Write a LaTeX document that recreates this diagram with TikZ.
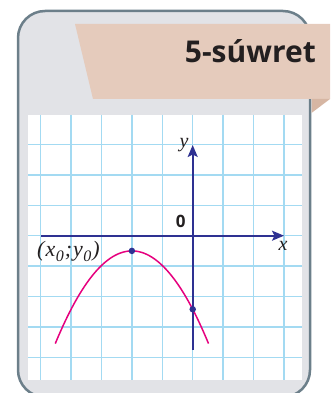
\documentclass[tikz,border=0pt]{standalone}
\usepackage{fontspec}
\setmainfont{Liberation Serif}
\newfontfamily\bannerfont{Open Sans}
\usetikzlibrary{arrows.meta}
\definecolor{framefill}{RGB}{226,227,231}
\definecolor{frameline}{RGB}{108,127,138}
\definecolor{bannerfill}{RGB}{229,203,188}
\definecolor{bannerfold}{RGB}{214,182,163}
\definecolor{gridblue}{RGB}{163,218,242}
\definecolor{navy}{RGB}{46,49,146}
\definecolor{curvemag}{RGB}{230,0,126}
\definecolor{textdark}{RGB}{35,31,32}
\newcommand{\subz}{\raisebox{-0.27em}{\fontsize{16}{16}\selectfont 0}}
\tikzset{
  gridline/.style={draw=gridblue, line width=1.3pt},
  axisline/.style={draw=navy, line width=1.6pt, -{Stealth[length=12pt,width=10pt,inset=2.5pt]}},
  curveline/.style={draw=curvemag, line width=1.5pt},
  dotmark/.style={circle, fill=navy, inner sep=0pt, minimum size=6.5pt},
  axislabel/.style={font=\fontsize{20}{20}\selectfont\itshape, text=textdark, inner sep=0pt},
}
\begin{document}
\begin{tikzpicture}[x=1pt, y=-1pt]
\useasboundingbox (0,0) rectangle (330,393);
\clip (0,0) rectangle (330,393);
% frame
\draw[fill=framefill, draw=frameline, line width=2.5pt, rounded corners=27pt] (18,11) rectangle (310,397);
% banner
\fill[bannerfill] (75,24) -- (330,24) -- (330,99) -- (93,99) -- cycle;
\fill[bannerfold] (311.5,99) -- (330,99) -- (311.5,113) -- cycle;
\node[anchor=base east, inner sep=0pt, text=textdark, font=\bannerfont\bfseries\fontsize{30}{30}\selectfont] (title) at (316,63) {5-súwret};
% grid
\fill[white] (28,115) rectangle (302,380);
\foreach \k in {-5,...,3} {
  \draw[gridline] ({192.7+30.4*\k},115) -- ({192.7+30.4*\k},380);
}
\foreach \k in {-3,...,4} {
  \draw[gridline] (28,{235.7+30.4*\k}) -- (302,{235.7+30.4*\k});
}
% axes
\coordinate (xstart) at (41,235.7);
\coordinate (xend) at (284,235.7);
\coordinate (ystart) at (192.7,350);
\coordinate (yend) at (192.7,145);
\draw[axisline] (xstart) -- (xend);
\draw[axisline] (ystart) -- (yend);
% parabola
\begin{scope}[shift={(192.7,235.7)}, x=30.4pt, y=30.4pt]
  \draw[curveline, domain=-4.52:0.52, samples=60, smooth] plot (\x, {-0.5-0.48*(\x+2)*(\x+2)});
  \node[dotmark] (vertex) at (-2,-0.5) {};
  \node[dotmark] (yint) at (0,-2.42) {};
\end{scope}
% labels
\node[axislabel] (ylab) at (184,145) {y};
\node[axislabel] (xlab) at (283,246) {x};
\node[inner sep=0pt, text=textdark, font=\bannerfont\bfseries\fontsize{17}{17}\selectfont] (zero) at (180.7,221.7) {0};
\node[anchor=base west, inner sep=0pt, text=textdark, font=\fontsize{22}{22}\selectfont\itshape] (vlab) at (37,256) {(\kern1pt x\kern0.5pt\subz\kern1pt;\kern1pt y\kern0.5pt\subz\kern1pt)};
\end{tikzpicture}
\end{document}
